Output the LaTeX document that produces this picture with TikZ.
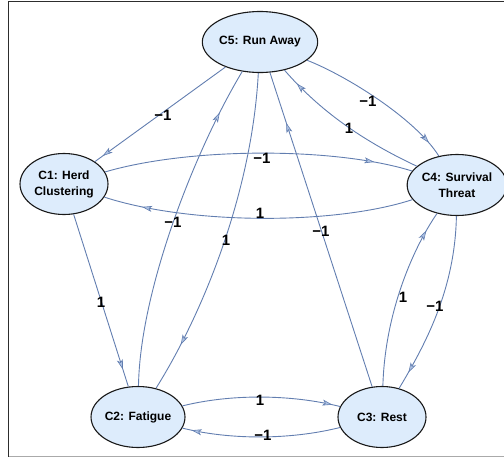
\documentclass[tikz,border=0pt]{standalone}
\usepackage{fontspec}
\setmainfont{Liberation Sans}
\usetikzlibrary{shapes.geometric,arrows.meta,decorations.markings}
\definecolor{edgeblue}{RGB}{98,126,176}
\definecolor{nodefill}{RGB}{221,236,252}
\definecolor{arrfill}{RGB}{175,195,228}
\definecolor{framedark}{RGB}{45,45,45}
\definecolor{framegray}{RGB}{170,170,170}
\begin{document}
\begin{tikzpicture}[x=1pt,y=-1pt,
  concept/.style={ellipse,draw=black!90,line width=1.1pt,fill=nodefill,
    minimum width=88pt,minimum height=61pt,inner sep=0pt,align=center,
    font=\bfseries\fontsize{12}{16}\selectfont},
  wlabel/.style={font=\bfseries\fontsize{15}{15}\selectfont,inner sep=0pt},
  link/.style={draw=edgeblue,line width=0.9pt},
  tipat/.style={postaction={decorate,decoration={markings,
    mark=at position #1 with {\arrow{Stealth[length=10pt,width=6pt,inset=2.5pt,color=edgeblue,fill=arrfill,line width=0.6pt]}}}}}
]
\useasboundingbox (0,0) rectangle (504,458);
% frame
\coordinate (ftl) at (8.5,1.5);
\coordinate (ftr) at (504,1.5);
\coordinate (fbl) at (8.5,456.5);
\coordinate (fbr) at (504,456.5);
\draw[framegray,line width=1.5pt] (fbl) -- (fbr);
\draw[framedark,line width=1.5pt] (fbl) -- (ftl) -- (ftr);

% nodes
\node[concept] (c5) at (260,42) {C5: Run Away};
\node[concept] (c1) at (64,184) {C1: Herd\\Clustering};
\node[concept] (c4) at (457,185) {C4: Survival\\Threat};
\node[concept] (c2) at (138,417) {C2: Fatigue};
\node[concept] (c3) at (382,417) {C3: Rest};

% connectors
\draw[link,tipat=0.94] (c5) -- (c1);
\draw[link,tipat=0.9] (c5) .. controls (345,75) and (415,118) .. (c4);
\draw[link,tipat=0.89] (c4) .. controls (363,141) and (320,111) .. (c5);
\draw[link,tipat=0.875] (c1) .. controls (190,147) and (335,147) .. (c4);
\draw[link,tipat=0.875] (c4) .. controls (335,225) and (190,225) .. (c1);
\draw[link,tipat=0.9] (c1) -- (c2);
\draw[link,tipat=0.86] (c2) .. controls (140,290) and (195,150) .. (c5);
\draw[link,tipat=0.85] (c5) .. controls (252,190) and (205,310) .. (c2);
\draw[link,tipat=0.84] (c3) -- (c5);
\draw[link,tipat=0.89] (c3) .. controls (385,310) and (415,245) .. (c4);
\draw[link,tipat=0.9] (c4) .. controls (455,290) and (425,345) .. (c3);
\draw[link,tipat=0.95] (c2) .. controls (230,394) and (290,394) .. (c3);
\draw[link,tipat=0.94] (c3) .. controls (290,440) and (230,440) .. (c2);

% weights
\node[wlabel] (w51) at (163,115) {−1};
\node[wlabel] (w54) at (368,101) {−1};
\node[wlabel] (w45) at (349,128) {1};
\node[wlabel] (w14) at (262,158) {−1};
\node[wlabel] (w41) at (260,213) {1};
\node[wlabel] (w12) at (101,302) {1};
\node[wlabel] (w25) at (173,222) {−1};
\node[wlabel] (w52) at (226,240) {1};
\node[wlabel] (w35) at (321,231) {−1};
\node[wlabel] (w34) at (403,297) {1};
\node[wlabel] (w43) at (435,306) {−1};
\node[wlabel] (w23) at (260,400) {1};
\node[wlabel] (w32) at (263,435) {−1};
\end{tikzpicture}
\end{document}
